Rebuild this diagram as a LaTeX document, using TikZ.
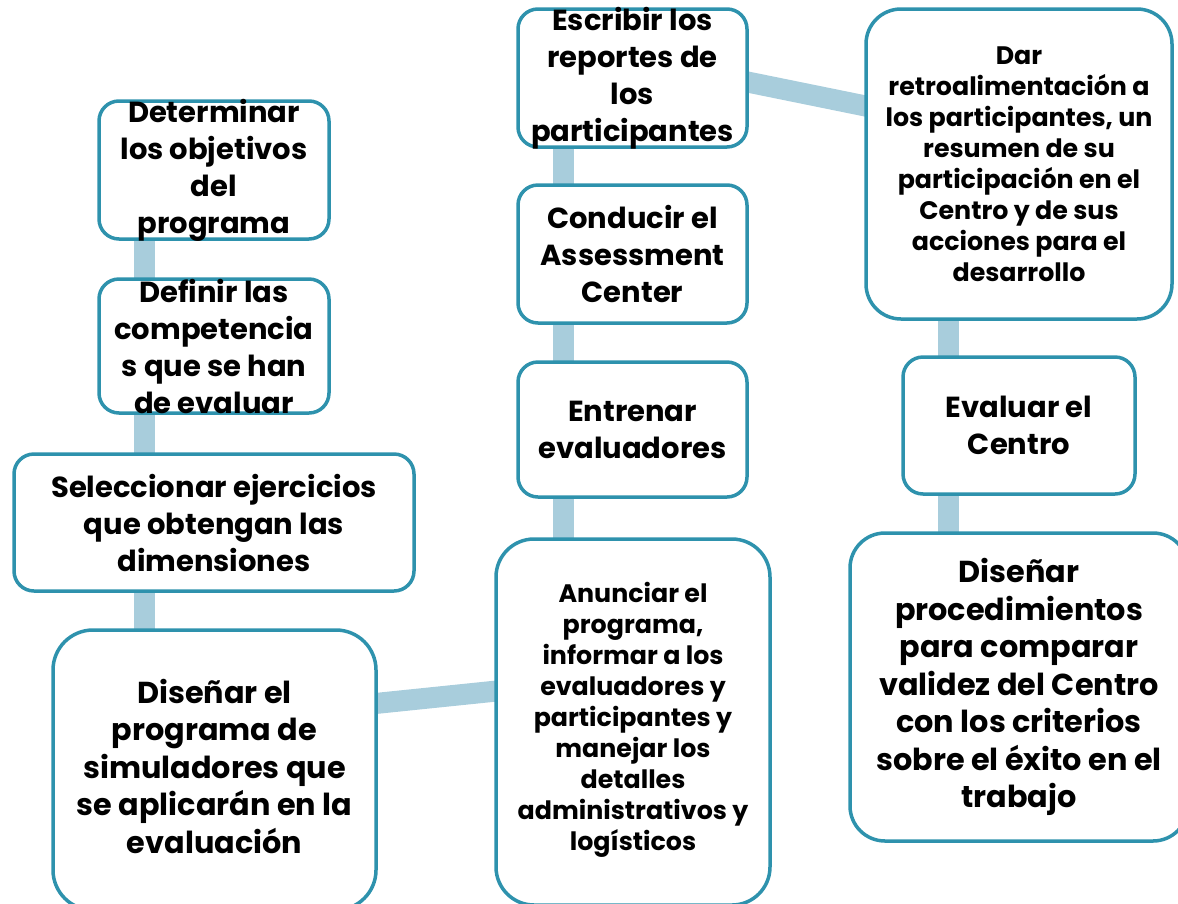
\documentclass[tikz,border=0pt]{standalone}
\usepackage{fontspec}
\setmainfont{Poppins}
\usetikzlibrary{calc}
\pgfdeclarelayer{bg}
\pgfsetlayers{bg,main}
\definecolor{edge}{RGB}{46,146,173}
\definecolor{barc}{RGB}{168,205,220}
\tikzset{
  boxnode/.style={draw=edge, line width=3.5pt, fill=white, rounded corners=#1, inner sep=0pt},
  boxnode/.default=20pt,
  bigtxt/.style={align=center, font=\bfseries\fontsize{29}{37}\selectfont, inner sep=0pt},
  largetxt/.style={align=center, font=\bfseries\fontsize{30.3}{37.5}\selectfont, inner sep=0pt},
  smalltxt/.style={align=center, font=\bfseries\fontsize{25.3}{31}\selectfont, inner sep=0pt},
  bar/.style={draw=barc, line width=21pt, shorten <=-6pt, shorten >=-6pt},
}
\begin{document}
\begin{tikzpicture}[x=1pt,y=-1pt]
\useasboundingbox (0,0) rectangle (1178,903);
\clip (0,0) rectangle (1178,903);
% boxes
\node[boxnode, minimum width=230pt, minimum height=138pt] (b1) at (214,170) {};
\node[boxnode, minimum width=230pt, minimum height=134pt] (b2) at (214,346) {};
\node[boxnode, minimum width=400pt, minimum height=137pt] (b3) at (214,522.5) {};
\node[boxnode=40pt, minimum width=323pt, minimum height=280pt] (b4) at (214.5,770) {};
\node[boxnode=38pt, minimum width=274pt, minimum height=366pt] (b5) at (633,722) {};
\node[boxnode, minimum width=229pt, minimum height=135pt] (b6) at (632.5,429.5) {};
\node[boxnode, minimum width=229pt, minimum height=138pt] (b7) at (632.5,254) {};
\node[boxnode, minimum width=229pt, minimum height=138pt] (b8) at (632.5,78) {};
\node[boxnode=35pt, minimum width=306pt, minimum height=310pt] (b9) at (1019,164) {};
\node[boxnode, minimum width=232pt, minimum height=137pt] (b10) at (1019,425.5) {};
\node[boxnode=35pt, minimum width=338pt, minimum height=308pt] (b11) at (1019,687) {};
% texts
\node[bigtxt] (t1) at (b1.center) {Determinar\\los objetivos\\del\\programa};
\node[bigtxt] (t2) at (b2.center) {Definir las\\competencia\\s que se han\\de evaluar};
\node[bigtxt] (t3) at (b3.center) {Seleccionar ejercicios\\que obtengan las\\dimensiones};
\node[largetxt] (t4) at (214.5,766) {Diseñar el\\programa de\\simuladores que\\se aplicarán en la\\evaluación};
\node[smalltxt] (t5) at (633,720) {Anunciar el\\programa,\\informar a los\\evaluadores y\\participantes y\\manejar los\\detalles\\administrativos y\\logísticos};
\node[bigtxt] (t6) at (b6.center) {Entrenar\\evaluadores};
\node[bigtxt] (t7) at (b7.center) {Conducir el\\Assessment\\Center};
\node[bigtxt] (t8) at (b8.center) {Escribir los\\reportes de\\los\\participantes};
\node[smalltxt] (t9) at (b9.center) {Dar\\retroalimentación a\\los participantes, un\\resumen de su\\participación en el\\Centro y de sus\\acciones para el\\desarrollo};
\node[bigtxt] (t10) at (b10.center) {Evaluar el\\Centro};
\node[largetxt] (t11) at (b11.center) {Diseñar\\procedimientos\\para comparar\\validez del Centro\\con los criterios\\sobre el éxito en el\\trabajo};
% connectors
\coordinate (lc) at (144,0);
\coordinate (mc) at (563,0);
\coordinate (rc) at (948,0);
\begin{pgfonlayer}{bg}
\draw[bar] (b1.south -| lc) -- (b2.north -| lc);
\draw[bar] (b2.south -| lc) -- (b3.north -| lc);
\draw[bar] (b3.south -| lc) -- (b4.north -| lc);
\draw[bar] ($(b4.north east)+(0,75)$) -- ($(b5.north west)+(0,154)$);
\draw[bar] (b5.north -| mc) -- (b6.south -| mc);
\draw[bar] (b6.north -| mc) -- (b7.south -| mc);
\draw[bar] (b7.north -| mc) -- (b8.south -| mc);
\draw[bar] ($(b8.north east)+(0,75)$) -- ($(b9.north west)+(0,98.5)$);
\draw[bar] (b9.south -| rc) -- (b10.north -| rc);
\draw[bar] (b10.south -| rc) -- (b11.north -| rc);
\end{pgfonlayer}
\end{tikzpicture}
\end{document}
